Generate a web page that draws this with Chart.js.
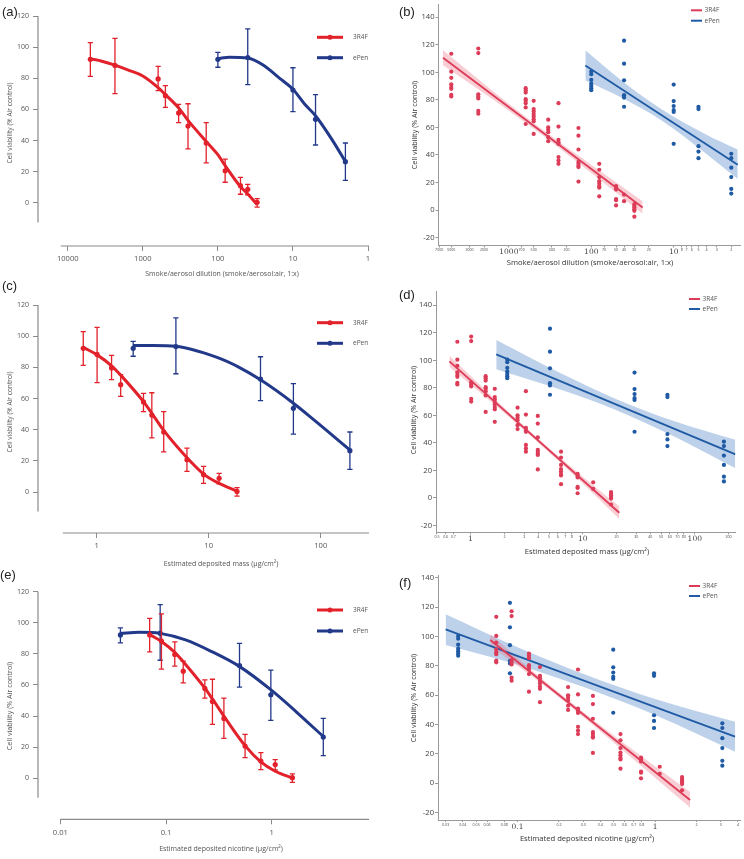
<!DOCTYPE html>
<html>
<head>
<meta charset="utf-8">
<title>Cell viability – 3R4F vs ePen</title>
<script src="https://cdn.jsdelivr.net/npm/chart.js@4.4.1/dist/chart.umd.min.js"></script>
<style>
  body { margin: 0; background: #fff; }
  #fig { position: relative; width: 744px; height: 859px; overflow: hidden; background: #fff; }
  #fig canvas { position: absolute; }
  .tag { position: absolute; font: 13px 'Liberation Sans', Arial, sans-serif; color: #222; line-height: 15px; }
</style>
</head>
<body>
<div id="fig">
  <canvas id="ca" width="372" height="287" style="left:0;top:0"></canvas>
  <canvas id="cb" width="372" height="287" style="left:372px;top:0"></canvas>
  <canvas id="cc" width="372" height="283" style="left:0;top:287px"></canvas>
  <canvas id="cd" width="372" height="283" style="left:372px;top:287px"></canvas>
  <canvas id="ce" width="372" height="289" style="left:0;top:570px"></canvas>
  <canvas id="cf" width="372" height="289" style="left:372px;top:570px"></canvas>
  <div class="tag" style="left:2px;top:4px">(a)</div>
  <div class="tag" style="left:399px;top:4px">(b)</div>
  <div class="tag" style="left:2px;top:278px">(c)</div>
  <div class="tag" style="left:399px;top:287px">(d)</div>
  <div class="tag" style="left:0px;top:567px">(e)</div>
  <div class="tag" style="left:399px;top:575px">(f)</div>
</div>
<script>
// ===== data =====
const seriesNames = ['3R4F', 'ePen'];

// exposure groups: dilution (1:x), deposited mass and deposited nicotine (µg/cm2)
const dilution3R4F = [5000, 2350, 625, 500, 333, 250, 143, 80, 50, 40, 30];
const dilutionEPen = [100, 40, 10, 5, 2];
const mass3R4F = [0.76, 1.01, 1.36, 1.64, 2.62, 3.11, 3.97, 6.4, 9.0, 12.4, 17.9];
const massEPen = [2.12, 5.1, 29, 57, 182];
const nicotine3R4F = [0.070, 0.0905, 0.121, 0.1455, 0.233, 0.275, 0.353, 0.56, 0.79, 1.08, 1.57];
const nicotineEPen = [0.037, 0.088, 0.496, 0.982, 3.08];

// mean viability with error bar ends (% air control)
const mean3R4F = [92.2, 88.3, 79.6, 68.9, 57.8, 49.4, 38.5, 20.7, 11.1, 8.8, 0.4];
const high3R4F = [102.9, 105.7, 87.7, 75.3, 63.3, 63.7, 51.6, 28.2, 16.5, 12.0, 2.8];
const low3R4F = [81.3, 70.2, 72.1, 61.4, 51.6, 34.7, 25.7, 13.3, 5.6, 5.3, -2.6];
const meanEPen = [92.2, 93.3, 72.5, 53.7, 26.5];
const highEPen = [96.7, 111.7, 86.8, 69.5, 38.5];
const lowEPen = [87.1, 75.9, 58.6, 37.2, 14.5];

// single replicates per group (right column)
const rep3R4F = [
  [113.5, 100.5, 96, 91.3, 89.4, 88, 83.7, 82.5],
  [117.3, 114, 84, 82.5, 81, 72, 70],
  [88.5, 87, 85.3, 80.5, 79.3, 77.6, 74.5, 62.5],
  [79.3, 73.3, 71.6, 69.7, 68, 66, 64.4, 55.3],
  [65.6, 60, 58.4, 56.5, 52.9, 50],
  [77.6, 60.6, 51, 49.3, 48, 38.5, 36, 33.6],
  [59.6, 54, 44, 35, 33.6, 32, 31.2, 20.7],
  [33.6, 29.3, 24, 21, 19.2, 17.3, 16.3, 10],
  [17.5, 16.3, 14.9, 8, 7.2, 3.4],
  [11.3, 6.5],
  [4.3, 2.9, 1.9, 0.7, -0.5, -4.8]
];
const repEPen = [
  [100.5, 98.6, 94.5, 91.8, 90.1, 88.5, 87],
  [123, 106.3, 94.2, 83.4, 81.7, 75],
  [91.1, 79.1, 75.5, 72.6, 71.2, 48.1],
  [75, 73.3, 46.4, 42.5, 37.7],
  [40.9, 37.7, 30.8, 24, 15.4, 12]
];

// fitted dose-response curves (left column)
const fitDil3R4F_x = [5000, 3500, 2350, 1500, 1000, 625, 500, 333, 250, 143, 100, 80, 50, 40, 30];
const fitDil3R4F_y = [92.5, 91, 88.5, 85, 81.5, 74, 69.5, 61, 53, 39.5, 31, 24, 10.5, 5.8, -1];
const fitDilEPen_x = [100, 70, 40, 25, 15, 10, 7, 5, 3, 2];
const fitDilEPen_y = [92.6, 93.6, 93, 88.5, 80, 73, 63.5, 56, 40.5, 26.5];
const fitMass3R4F_x = [0.76, 1.01, 1.36, 1.64, 2.62, 3.11, 3.97, 6.4, 9.0, 12.4, 17.9];
const fitMass3R4F_y = [92.8, 88, 81, 75, 58, 50.5, 39.5, 22, 11.5, 5.5, 0.6];
const fitMassEPen_x = [2.12, 3.2, 5.1, 11.7, 18.7, 29, 57, 88, 182];
const fitMassEPen_y = [94, 94, 93.5, 86.5, 80, 72, 57, 46, 27];
const fitNic3R4F_x = [0.070, 0.0905, 0.121, 0.1455, 0.233, 0.275, 0.353, 0.56, 0.79, 1.08, 1.57];
const fitNic3R4F_y = [92.5, 88, 81, 75, 58, 51, 40, 21, 10.5, 4.5, 0.2];
const fitNicEPen_x = [0.037, 0.0558, 0.088, 0.153, 0.272, 0.498, 0.986, 1.77, 3.08];
const fitNicEPen_y = [93.2, 93.9, 93.2, 89, 81.4, 71.8, 56.8, 41.8, 26.8];

// regression lines and 95% bands (right column)
const regDil3R4F_x = [6300, 23.8];
const regDil3R4F_y = [110.6, 1.9];
const bandDil3R4F_x = [6300, 1585, 389, 100, 23.8];
const bandDil3R4F_hi = [116, 86.7, 58.3, 32.9, 6.5];
const bandDil3R4F_lo = [105.2, 80.7, 54.3, 26.9, -2.7];
const regDilEPen_x = [118, 1.67];
const regDilEPen_y = [105, 33];
const bandDilEPen_x = [118, 40, 14, 4, 1.67];
const bandDilEPen_hi = [116, 92.6, 73.2, 54.7, 44];
const bandDilEPen_lo = [94, 80.6, 65, 40.7, 22.5];

const regMass3R4F_x = [0.645, 21.2];
const regMass3R4F_y = [99.3, -10.8];
const bandMass3R4F_x = [0.645, 1.58, 3.7, 10, 21.2];
const bandMass3R4F_hi = [103.3, 73.2, 45.6, 15.4, -6.3];
const bandMass3R4F_lo = [95.3, 68.8, 42.6, 10.4, -15.3];
const regMassEPen_x = [1.69, 231];
const regMassEPen_y = [104.3, 31.6];
const bandMassEPen_x = [1.69, 6.3, 20, 63, 231];
const bandMassEPen_hi = [114.7, 90.8, 71.8, 56.3, 42.2];
const bandMassEPen_lo = [93.5, 78.8, 63.8, 45.3, 21.5];

const regNic3R4F_x = [0.0633, 1.795];
const regNic3R4F_y = [97.7, -11.4];
const bandNic3R4F_x = [0.0633, 0.126, 0.251, 0.5, 1.795];
const bandNic3R4F_hi = [101.7, 77.3, 54.4, 32.6, -5.9];
const bandNic3R4F_lo = [93.5, 73.3, 51.2, 27.8, -16.5];
const regNicEPen_x = [0.03, 3.81];
const regNicEPen_y = [105, 31.8];
const bandNicEPen_x = [0.03, 0.1, 0.316, 1, 3.81];
const bandNicEPen_hi = [115.2, 92.8, 73.9, 57.5, 42];
const bandNicEPen_lo = [94.3, 80.8, 64.9, 46.5, 21.6];

// tick labels
const yTicksLeft = [0, 20, 40, 60, 80, 100, 120];
const yTicksRight = [-20, 0, 20, 40, 60, 80, 100, 120, 140];
const xTicksA = [10000, 1000, 100, 10, 1];
const xTicksC = [1, 10, 100];
const xTicksE = [0.01, 0.1, 1];
const xTicksB = [7000, 5000, 3000, 2000, 1000, 700, 500, 300, 200, 100, 70, 50, 40, 30, 20, 10, 8, 7, 6, 5, 4, 3, 2];
const xMajorB = [1000, 100, 10];
const xTicksD = [0.5, 0.6, 0.7, 1, 2, 3, 4, 5, 6, 7, 8, 10, 20, 30, 40, 50, 60, 70, 80, 100, 200];
const xMajorD = [1, 10, 100];
const xTicksF = [0.03, 0.04, 0.05, 0.06, 0.08, 0.1, 0.2, 0.3, 0.4, 0.5, 0.6, 0.7, 0.8, 1, 2, 3, 4];
const xMajorF = [0.1, 1];

const yTitle = 'Cell viability (% Air control)';
const titleDil = 'Smoke/aerosol dilution (smoke/aerosol:air, 1:x)';
const titleMass = 'Estimated deposited mass (\u00b5g/cm\u00b2)';
const titleNic = 'Estimated deposited nicotine (\u00b5g/cm\u00b2)';

// ===== style =====
const SANS = "'Open Sans', 'DejaVu Sans', sans-serif";
const SERIF = "'DejaVu Serif', 'Liberation Serif', serif";
const L_RED = '#e2212b', L_BLUE = '#22398a';
const R_RED = '#dd3c58', R_BLUE = '#1f5aa4';
const BAND_RED = 'rgba(236,112,128,0.35)', BAND_BLUE = 'rgba(98,146,205,0.42)';

const pts = (xs, ys) => xs.map((x, i) => ({ x, y: ys[i] }));
const reps = (xs, groups) => groups.flatMap((g, i) => g.map(y => ({ x: xs[i], y })));

// error bars, detached axes, legend and axis titles
const deco = {
  id: 'deco',
  beforeDatasetDraw(chart, args) {
    const ds = chart.data.datasets[args.index];
    if (!ds.errHi) return;
    const { ctx, scales: { x, y } } = chart;
    ctx.save();
    ctx.strokeStyle = ds.borderColor;
    ctx.lineWidth = 1.3;
    ds.data.forEach((p, i) => {
      const px = x.getPixelForValue(p.x);
      const top = y.getPixelForValue(ds.errHi[i]);
      const bot = y.getPixelForValue(ds.errLo[i]);
      ctx.beginPath();
      ctx.moveTo(px, top); ctx.lineTo(px, bot);
      ctx.moveTo(px - 2.6, top); ctx.lineTo(px + 2.6, top);
      ctx.moveTo(px - 2.6, bot); ctx.lineTo(px + 2.6, bot);
      ctx.stroke();
    });
    ctx.restore();
  },
  afterDraw(chart, args, o) {
    const { ctx, chartArea: ca, scales: { x, y } } = chart;
    ctx.save();
    if (o.axisFrom !== undefined) {
      ctx.strokeStyle = '#8a8a8a';
      ctx.lineWidth = 1.2;
      ctx.beginPath();
      ctx.moveTo(ca.left, y.getPixelForValue(120));
      ctx.lineTo(ca.left, y.getPixelForValue(-12.5));
      ctx.moveTo(x.getPixelForValue(o.axisFrom), ca.bottom);
      ctx.lineTo(ca.right + 1, ca.bottom);
      ctx.stroke();
    }
    // legend
    ctx.textAlign = 'left';
    ctx.textBaseline = 'middle';
    ctx.font = `${o.legendSize}px ${SANS}`;
    o.legendColors.forEach((c, i) => {
      const ly = o.legendY[i];
      ctx.strokeStyle = c; ctx.fillStyle = c;
      ctx.lineWidth = o.legendDot ? 3 : 2;
      ctx.beginPath();
      ctx.moveTo(o.legendX, ly); ctx.lineTo(o.legendX + o.legendLen, ly);
      ctx.stroke();
      if (o.legendDot) {
        ctx.beginPath();
        ctx.arc(o.legendX + o.legendLen / 2, ly, 2.5, 0, Math.PI * 2);
        ctx.fill();
      }
      ctx.fillStyle = '#555';
      ctx.fillText(seriesNames[i], o.legendX + o.legendLen + o.legendGap, ly);
    });
    // axis titles
    ctx.fillStyle = o.titleColor;
    ctx.textAlign = 'center';
    ctx.font = `${o.titleSize}px ${SANS}`;
    ctx.fillText(o.xTitle, o.xTitleAt[0], o.xTitleAt[1]);
    ctx.translate(o.yTitleAt[0], o.yTitleAt[1]);
    ctx.rotate(-Math.PI / 2);
    ctx.font = `${o.yTitleSize}px ${SANS}`;
    ctx.fillText(yTitle, 0, 0);
    ctx.restore();
  }
};

function makeChart(id, p, datasets, decoOpts) {
  const canvas = document.getElementById(id);
  const W = canvas.width, H = canvas.height;
  const [aL, aT, aR, aB] = p.area;
  const left = p.side === 'left';
  const majors = p.xMajor || [];
  return new Chart(canvas, {
    type: 'scatter',
    data: { datasets },
    plugins: [deco],
    options: {
      responsive: false,
      animation: false,
      events: [],
      layout: { padding: { left: 0, top: aT, right: W - aR, bottom: 0 } },
      plugins: { legend: { display: false }, tooltip: { enabled: false }, deco: decoOpts },
      scales: {
        x: {
          type: 'logarithmic', min: p.xMin, max: p.xMax, reverse: !!p.reverse,
          afterBuildTicks: s => { s.ticks = p.xTicks.map(v => ({ value: v })); },
          afterFit: s => { s.height = H - aB; s.paddingLeft = 0; s.paddingRight = 0; },
          ticks: {
            autoSkip: false, maxRotation: 0, minRotation: 0,
            padding: left ? 3.5 : 0.5,
            color: left ? '#555' : '#444',
            font: c => left ? { family: SANS, size: 7.6 }
              : (majors.includes(c.tick.value) ? { family: SERIF, size: 7.5 } : { family: SANS, size: 3.6 }),
            callback: v => String(v)
          },
          grid: { drawOnChartArea: false, drawTicks: true, tickLength: left ? 5 : 2, color: left ? '#8a8a8a' : '#9a9a9a' },
          border: { display: !left, color: '#9a9a9a', width: 1 }
        },
        y: {
          type: 'linear', min: p.yMin, max: p.yMax,
          afterBuildTicks: s => { s.ticks = (left ? yTicksLeft : yTicksRight).map(v => ({ value: v })); },
          afterFit: s => { s.width = aL; s.paddingTop = 0; s.paddingBottom = 0; },
          ticks: { padding: left ? 4 : 1, color: left ? '#555' : '#444', font: { family: SANS, size: left ? 7 : 7.6 } },
          grid: { drawOnChartArea: false, drawTicks: true, tickLength: left ? 5 : 3, color: left ? '#8a8a8a' : '#9a9a9a' },
          border: { display: !left, color: '#9a9a9a', width: 1 }
        }
      }
    }
  });
}

function leftSets(xR, xB, fitRx, fitRy, fitBx, fitBy) {
  return [
    { data: pts(xR, mean3R4F), errHi: high3R4F, errLo: low3R4F, backgroundColor: L_RED, borderColor: L_RED, pointRadius: 2.6, pointBorderWidth: 0 },
    { data: pts(xB, meanEPen), errHi: highEPen, errLo: lowEPen, backgroundColor: L_BLUE, borderColor: L_BLUE, pointRadius: 2.6, pointBorderWidth: 0 },
    { data: pts(fitRx, fitRy), showLine: true, borderColor: L_RED, borderWidth: 3, pointRadius: 0, cubicInterpolationMode: 'monotone', fill: false },
    { data: pts(fitBx, fitBy), showLine: true, borderColor: L_BLUE, borderWidth: 3, pointRadius: 0, cubicInterpolationMode: 'monotone', fill: false }
  ];
}

function rightSets(xR, xB, r) {
  const band = (xs, ys, fill, color) => ({
    data: pts(xs, ys), showLine: true, borderColor: 'transparent', borderWidth: 0, pointRadius: 0,
    cubicInterpolationMode: 'monotone', fill, backgroundColor: color
  });
  return [
    { data: reps(xR, rep3R4F), backgroundColor: R_RED, borderColor: R_RED, pointRadius: 2.1, pointBorderWidth: 0 },
    { data: reps(xB, repEPen), backgroundColor: R_BLUE, borderColor: R_BLUE, pointRadius: 2.1, pointBorderWidth: 0 },
    { data: pts(r.lineRx, r.lineRy), showLine: true, borderColor: R_RED, borderWidth: 1.8, pointRadius: 0, fill: false },
    { data: pts(r.lineBx, r.lineBy), showLine: true, borderColor: R_BLUE, borderWidth: 1.8, pointRadius: 0, fill: false },
    band(r.bandRx, r.bandRhi, '+1', BAND_RED),
    band(r.bandRx, r.bandRlo, false, 'transparent'),
    band(r.bandBx, r.bandBhi, '+1', BAND_BLUE),
    band(r.bandBx, r.bandBlo, false, 'transparent')
  ];
}

const leftLegend = { legendColors: [L_RED, L_BLUE], legendX: 317, legendLen: 26, legendGap: 10, legendDot: true, legendSize: 6.5, titleColor: '#555', titleSize: 7, yTitleSize: 6.6 };
const rightLegend = { legendColors: [R_RED, R_BLUE], legendX: 319, legendLen: 11, legendGap: 2.5, legendDot: false, legendSize: 6.5, titleColor: '#333', titleSize: 7.6, yTitleSize: 7.2 };

// (a) dilution, fitted curves
makeChart('ca',
  { side: 'left', area: [38, 16, 371, 246], yMin: -27.6, yMax: 120, xMin: 1, xMax: 24900, reverse: true, xTicks: xTicksA },
  leftSets(dilution3R4F, dilutionEPen, fitDil3R4F_x, fitDil3R4F_y, fitDilEPen_x, fitDilEPen_y),
  { ...leftLegend, axisFrom: 12400, legendY: [37.3, 57.7], xTitle: titleDil, xTitleAt: [222, 274], yTitleAt: [10.5, 123] });

// (b) dilution, regression
makeChart('cb',
  { side: 'right', area: [66.5, 3, 368, 245.5], yMin: -25.7, yMax: 149.6, xMin: 1.567, xMax: 7145, reverse: true, xTicks: xTicksB, xMajor: xMajorB },
  rightSets(dilution3R4F, dilutionEPen, {
    lineRx: regDil3R4F_x, lineRy: regDil3R4F_y, lineBx: regDilEPen_x, lineBy: regDilEPen_y,
    bandRx: bandDil3R4F_x, bandRhi: bandDil3R4F_hi, bandRlo: bandDil3R4F_lo,
    bandBx: bandDilEPen_x, bandBhi: bandDilEPen_hi, bandBlo: bandDilEPen_lo
  }),
  { ...rightLegend, legendY: [10.3, 20.7], xTitle: titleDil, xTitleAt: [218, 262.5], yTitleAt: [43, 125] });

// (c) deposited mass, fitted curves
makeChart('cc',
  { side: 'left', area: [38, 18, 371, 246], yMin: -26.3, yMax: 120, xMin: 0.314, xMax: 264, xTicks: xTicksC },
  leftSets(mass3R4F, massEPen, fitMass3R4F_x, fitMass3R4F_y, fitMassEPen_x, fitMassEPen_y),
  { ...leftLegend, axisFrom: 0.5, legendY: [35.7, 56.3], xTitle: titleMass, xTitleAt: [221, 276.7], yTitleAt: [10, 125] });

// (d) deposited mass, regression
makeChart('cd',
  { side: 'right', area: [64, 3, 363.3, 245.3], yMin: -25, yMax: 150.4, xMin: 0.49, xMax: 230, xTicks: xTicksD, xMajor: xMajorD },
  rightSets(mass3R4F, massEPen, {
    lineRx: regMass3R4F_x, lineRy: regMass3R4F_y, lineBx: regMassEPen_x, lineBy: regMassEPen_y,
    bandRx: bandMass3R4F_x, bandRhi: bandMass3R4F_hi, bandRlo: bandMass3R4F_lo,
    bandBx: bandMassEPen_x, bandBhi: bandMassEPen_hi, bandBlo: bandMassEPen_lo
  }),
  { ...rightLegend, legendX: 317, legendY: [12, 22], xTitle: titleMass, xTitleAt: [215, 265], yTitleAt: [41.7, 123] });

// (e) deposited nicotine, fitted curves
makeChart('ce',
  { side: 'left', area: [38, 21.7, 371, 249.3], yMin: -26.4, yMax: 120, xMin: 0.00614, xMax: 8.16, xTicks: xTicksE },
  leftSets(nicotine3R4F, nicotineEPen, fitNic3R4F_x, fitNic3R4F_y, fitNicEPen_x, fitNicEPen_y),
  { ...leftLegend, axisFrom: 0.01, legendY: [40, 61], xTitle: titleNic, xTitleAt: [221, 279], yTitleAt: [10, 136], yTitleSize: 7.2 });

// (f) deposited nicotine, regression
makeChart('cf',
  { side: 'right', area: [66, 5, 368.3, 250], yMin: -25, yMax: 142, xMin: 0.0264, xMax: 4.14, xTicks: xTicksF, xMajor: xMajorF },
  rightSets(nicotine3R4F, nicotineEPen, {
    lineRx: regNic3R4F_x, lineRy: regNic3R4F_y, lineBx: regNicEPen_x, lineBy: regNicEPen_y,
    bandRx: bandNic3R4F_x, bandRhi: bandNic3R4F_hi, bandRlo: bandNic3R4F_lo,
    bandBx: bandNicEPen_x, bandBhi: bandNicEPen_hi, bandBlo: bandNicEPen_lo
  }),
  { ...rightLegend, legendX: 317, legendY: [16, 26], xTitle: titleNic, xTitleAt: [215, 268.7], yTitleAt: [41.7, 128] });
</script>
</body>
</html>
